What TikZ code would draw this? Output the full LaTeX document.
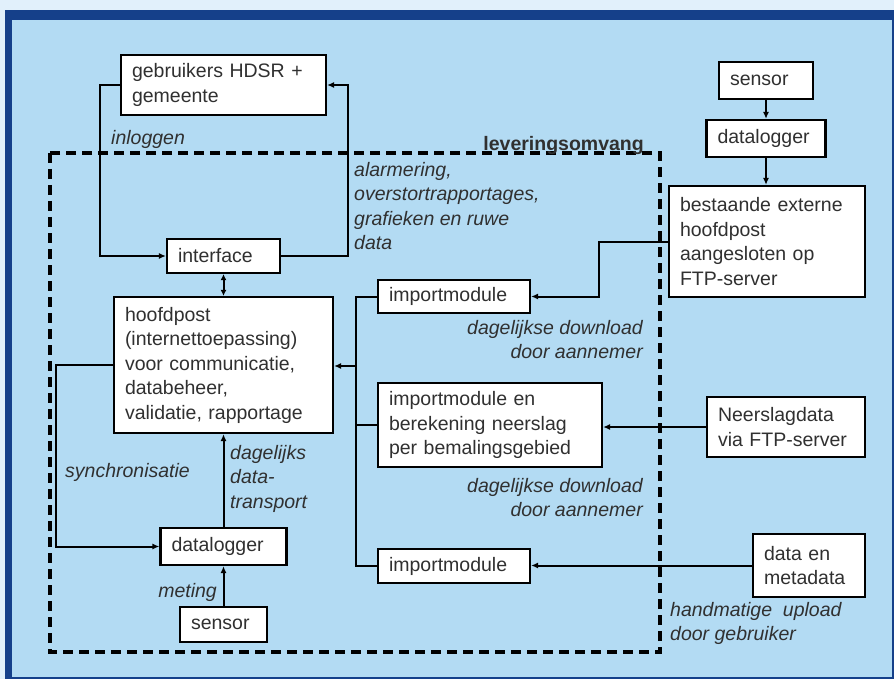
\documentclass[tikz,border=0pt]{standalone}
\usepackage{fontspec}
\setmainfont{Liberation Sans}
\usetikzlibrary{arrows.meta}
\definecolor{strip}{HTML}{E1F0FB}
\definecolor{frame}{HTML}{15408A}
\definecolor{panel}{HTML}{B3DBF3}
\definecolor{ink}{HTML}{303030}
\tikzset{
  box/.style={draw=black, fill=white, line width=2.2pt, align=left,
    inner xsep=11pt, inner ysep=3pt, text=ink,
    font=\fontsize{19.5}{24.5}\selectfont},
  conn/.style={line width=2pt, -{Latex[length=7pt,width=6pt]}},
  lbl/.style={font=\itshape\fontsize{19.5}{24.5}\selectfont, text=ink,
    inner sep=0pt},
}

\begin{document}
\begin{tikzpicture}[x=1pt,y=-1pt]
\useasboundingbox (0,0) rectangle (894,679);
\fill[strip] (0,0) rectangle (894,679);
\fill[frame] (5,10) rectangle (894,679);
\fill[panel] (12,20) rectangle (892,677);
% leveringsomvang
\draw[line width=3.5pt, dash pattern=on 10pt off 6pt] (50,153) rectangle (660,652);
\node[font=\bfseries\fontsize{19.5}{24}\selectfont, text=ink, anchor=base east,
      inner sep=0pt] (omvang) at (644,151) {leveringsomvang};
% boxes
\node[box, text width=183pt, minimum height=60pt] (users) at (223.5,85) {gebruikers HDSR +\\gemeente};
\node[box, text width=91pt, minimum height=34pt] (iface) at (223.5,256) {interface};
\node[box, text width=197pt, minimum height=136pt] (hoofd) at (223.5,365)
  {hoofdpost\\(internettoepassing)\\voor communicatie,\\databeheer,\\validatie, rapportage};
\node[box, text width=104pt, minimum height=37pt] (logger) at (223.5,546.5) {datalogger};
\node[box, text width=65pt, minimum height=35pt] (sensorA) at (223.5,624.5) {sensor};
\node[box, text width=130pt, minimum height=33pt] (imp1) at (454,296.5) {importmodule};
\node[box, text width=202pt, minimum height=84pt] (imp2) at (490,425)
  {importmodule en\\berekening neerslag\\per bemalingsgebied};
\node[box, text width=130pt, minimum height=34pt] (imp3) at (454,566) {importmodule};
\node[box, text width=72pt, minimum height=37pt] (sensorB) at (766,80.5) {sensor};
\node[box, text width=97pt, minimum height=37pt] (loggerB) at (766,138.5) {datalogger};
\node[box, text width=174pt, minimum height=111pt] (ext) at (767,241.5)
  {bestaande externe\\hoofdpost\\aangesloten op\\FTP-server};
\node[box, text width=136pt, minimum height=60pt] (neer) at (786,427) {Neerslagdata\\via FTP-server};
\node[box, text width=90pt, minimum height=63pt] (meta) at (809,565.5) {data en\\metadata};
% connectors
\draw[conn] (users.west) -- ++(-20,0) |- (iface.west);
\draw[conn] (iface.east) -- ++(67,0) |- (users.east);
\draw[line width=2pt, {Latex[length=6pt,width=6pt]}-{Latex[length=6pt,width=6pt]}] (iface) -- (hoofd);
\draw[conn] (logger) -- (hoofd);
\draw[conn] (sensorA) -- (logger);
\draw[conn] (hoofd.west) -- ++(-57,0) |- (logger.west);
\coordinate (bus) at (356,366);
\draw[line width=2pt] (imp1.west) -- (imp1.west -| bus) -- (imp3.west -| bus) -- (imp3.west);
\draw[line width=2pt] (imp2.west) -- (imp2.west -| bus);
\draw[conn] (bus) -- (hoofd.east |- bus);
\draw[conn] (ext.west) -- ++(-69,0) |- (imp1.east);
\draw[conn] (neer.west) -- (neer.west -| imp2.east);
\draw[conn] (meta.west) -- (meta.west -| imp3.east);
\draw[conn] (sensorB) -- (loggerB);
\draw[conn] (loggerB.south) -- (loggerB.south |- ext.north);
% labels
\node[lbl, anchor=base west] (login) at (111,145) {inloggen};
\node[lbl, anchor=north west, align=left] (alarm) at (354,162)
  {alarmering,\\overstortrapportages,\\grafieken en ruwe\\data};
\node[lbl, anchor=north east, align=right] (dl1) at (643,320) {dagelijkse download\\door aannemer};
\node[lbl, anchor=north east, align=right] (dl2) at (643,478) {dagelijkse download\\door aannemer};
\node[lbl, anchor=north west, align=left] (upload) at (670,602) {handmatige\ \ upload\\door gebruiker};
\node[lbl, anchor=north west, align=left] (transport) at (230,445) {dagelijks\\data-\\transport};
\node[lbl, anchor=base west] (sync) at (65,477) {synchronisatie};
\node[lbl, anchor=base east] (meting) at (217,597) {meting};
\end{tikzpicture}
\end{document}
